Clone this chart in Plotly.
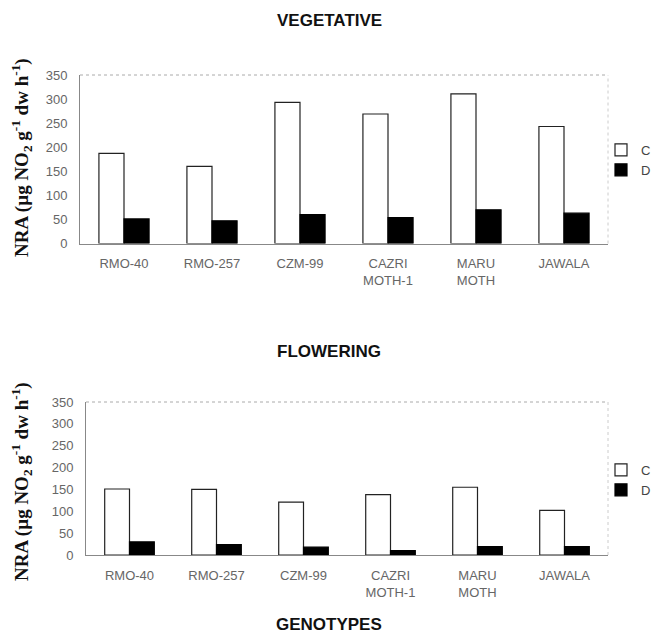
import plotly.graph_objects as go

genotypes = ["RMO-40", "RMO-257", "CZM-99", "CAZRI<br>MOTH-1", "MARU<br>MOTH", "JAWALA"]
veg_C = [187, 160, 293, 269, 311, 243]
veg_D = [51, 47, 60, 54, 70, 63]
flw_C = [151, 150, 121, 138, 155, 102]
flw_D = [30, 24, 18, 10, 19, 19]
y_ticks = [0, 50, 100, 150, 200, 250, 300, 350]

W, H = 660, 637
ML, MR, MT, MB = 80, 0, 75, 82
PW, PH = W - ML - MR, H - MT - MB


def px_x(x):
    return (x - ML) / PW


def px_y(y):
    return (H - MB - y) / PH


fig = go.Figure()

c_style = dict(color="white", line=dict(color="#222", width=1.2))
d_style = dict(color="black", line=dict(color="black", width=1.2))

fig.add_trace(go.Bar(x=genotypes, y=veg_C, name="C", marker=c_style,
                     xaxis="x", yaxis="y", legend="legend"))
fig.add_trace(go.Bar(x=genotypes, y=veg_D, name="D", marker=d_style,
                     xaxis="x", yaxis="y", legend="legend"))
fig.add_trace(go.Bar(x=genotypes, y=flw_C, name="C", marker=c_style,
                     xaxis="x2", yaxis="y2", legend="legend2"))
fig.add_trace(go.Bar(x=genotypes, y=flw_D, name="D", marker=d_style,
                     xaxis="x2", yaxis="y2", legend="legend2"))

tickfont = dict(family="Liberation Sans, Arial", size=13, color="#666")
yax = dict(range=[0, 350], tickvals=y_ticks, showgrid=False, zeroline=False,
           showline=True, linecolor="#888", linewidth=1, ticks="",
           tickfont=tickfont, ticklabelstandoff=9, automargin=False)
xax = dict(showgrid=False, zeroline=False, showline=True, linecolor="#888",
           linewidth=1, ticks="", tickfont=tickfont, ticklabelstandoff=8,
           automargin=False)

legfont = dict(family="Liberation Sans, Arial", size=13, color="#444")
fig.update_layout(
    width=W, height=H,
    margin=dict(l=ML, r=MR, t=MT, b=MB, autoexpand=False),
    paper_bgcolor="white", plot_bgcolor="white",
    barmode="group", bargap=0.43, bargroupgap=0,
    xaxis=dict(**xax, domain=[px_x(80), px_x(608)], anchor="y"),
    yaxis=dict(**yax, domain=[px_y(243.5), px_y(75)], anchor="x"),
    xaxis2=dict(**xax, domain=[px_x(86), px_x(608)], anchor="y2"),
    yaxis2=dict(**yax, domain=[px_y(555), px_y(402)], anchor="x2"),
    legend=dict(x=px_x(601), y=px_y(160), xanchor="left", yanchor="middle",
                font=legfont, itemwidth=30, tracegroupgap=0,
                bgcolor="rgba(0,0,0,0)"),
    legend2=dict(x=px_x(601), y=px_y(480), xanchor="left", yanchor="middle",
                 font=legfont, itemwidth=30, tracegroupgap=0,
                 bgcolor="rgba(0,0,0,0)"),
    showlegend=True,
)

# dotted top/right frame
for xr, yr in (("x domain", "y domain"), ("x2 domain", "y2 domain")):
    fig.add_shape(type="line", xref=xr, yref=yr, x0=0, x1=1, y0=1, y1=1,
                  line=dict(color="#aaa", width=1, dash="dot"))
    fig.add_shape(type="line", xref=xr, yref=yr, x0=1, x1=1, y0=0, y1=1,
                  line=dict(color="#ccc", width=1, dash="dot"))

title_font = dict(family="Liberation Sans, Arial", size=17, color="#111")
ylab = "<b>NRA (µg NO<sub>2</sub> g<sup>-1</sup> dw h<sup>-1</sup>)</b>"
ylab_font = dict(family="Liberation Serif, Times New Roman", size=19, color="#111")
for txt, y in (("<b>VEGETATIVE</b>", 20), ("<b>FLOWERING</b>", 351), ("<b>GENOTYPES</b>", 624)):
    fig.add_annotation(text=txt, xref="paper", yref="paper",
                       x=px_x(329), y=px_y(y), xanchor="center", yanchor="middle",
                       showarrow=False, font=title_font)
for y in (158, 482):
    fig.add_annotation(text=ylab, xref="paper", yref="paper", textangle=-90,
                       x=px_x(21), y=px_y(y), xanchor="center", yanchor="middle",
                       showarrow=False, font=ylab_font)

fig.write_html("out.html",
               config={"displayModeBar": False},
               post_script="document.body.style.margin='0px';"
                           "document.body.style.padding='0px';")
